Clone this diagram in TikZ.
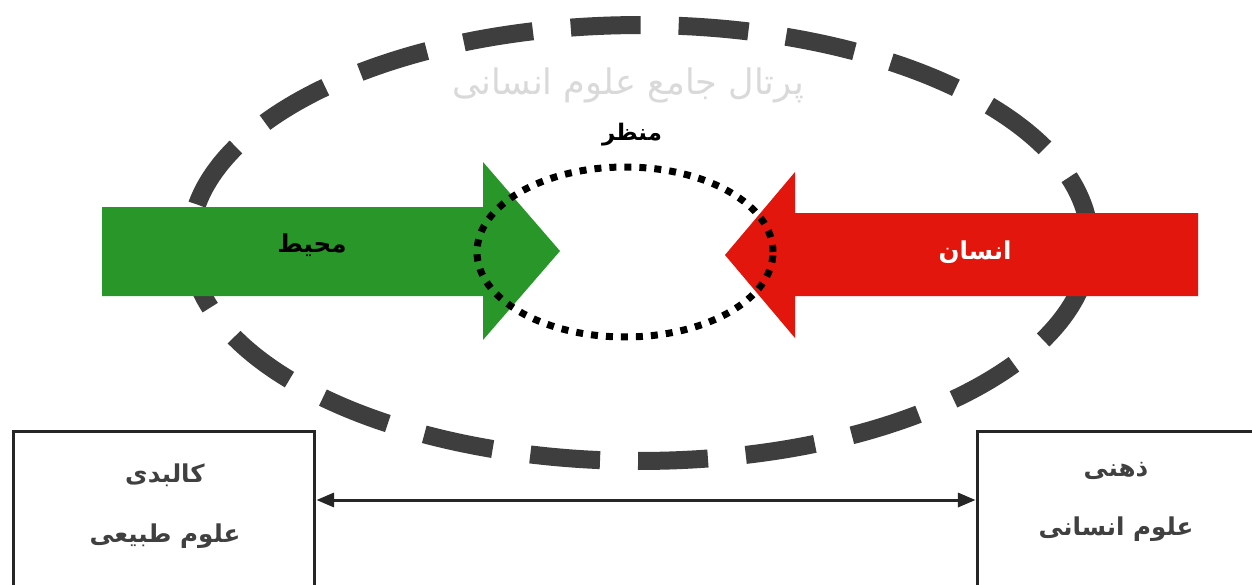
\documentclass[tikz,border=0pt]{standalone}
\usepackage{fontspec}
\usepackage{tikz}
\usetikzlibrary{shapes.geometric,arrows.meta}
\TeXXeTstate=1
\newfontfamily\arabicfont[Script=Arabic]{DejaVu Sans}
\definecolor{envgreen}{RGB}{40,150,40}
\definecolor{humred}{RGB}{226,22,12}
\definecolor{rimgray}{RGB}{62,62,62}
\newcommand{\fa}[1]{\beginR #1\endR}

\begin{document}
\begin{tikzpicture}[x=0.02cm, y=-0.02cm,
	every node/.style={font=\arabicfont\bfseries\fontsize{14}{17}\selectfont},
	box/.style={draw=black!85, line width=1.7pt, minimum width=6.04cm, minimum height=3.4cm},
	boxtext/.style={align=center, text=black!75, font=\arabicfont\bfseries\fontsize{14}{34}\selectfont}]
	\useasboundingbox (0,0) rectangle (1252,585);
	\fill[white] (0,0) rectangle (1252,585);
	% watermark
	\node[font=\arabicfont\fontsize{20}{24}\selectfont, text=black!15] (mark) at (628,85) {\fa{پرتال جامع علوم انسانی}};
	% outer frame
	\node[draw=rimgray, ellipse, line width=0.36cm, dash pattern=on 1.4cm off 0.76cm, minimum width=18cm, minimum height=8.72cm, inner sep=0pt] (frame) at (640,243) {};
	% the two arrows
	\fill[envgreen] (102,207) -- (483,207) -- (483,162) -- (560,251) -- (483,340) -- (483,296) -- (102,296) -- cycle;
	\fill[humred] (1198,213) -- (795,213) -- (795,172) -- (725,255) -- (795,338) -- (795,296) -- (1198,296) -- cycle;
	\node (env) at (312,245) {\fa{محیط}};
	\node[text=white] (human) at (975,252) {\fa{انسان}};
	% view
	\node[draw=black, ellipse, line width=0.14cm, dash pattern=on 0.14cm off 0.16cm, minimum width=5.92cm, minimum height=3.4cm, inner sep=0pt] (view) at (625,252) {};
	\node[font=\arabicfont\bfseries\fontsize{13}{16}\selectfont] (viewtext) at (632,135) {\fa{منظر}};
	% boxes
	\node[box] (lbox) at (164,516) {};
	\node[box] (rbox) at (1128,516) {};
	\node[boxtext] (ltext) at (165,506) {\fa{کالبدی}\\ \fa{علوم طبیعی}};
	\node[boxtext] (rtext) at (1116,502) {\fa{ذهنی}\\ \fa{علوم انسانی}};
	\draw[{Triangle[length=10pt,width=8pt]}-{Triangle[length=10pt,width=8pt]}, line width=1.7pt, black!85] ([yshift=0.32cm]lbox.east) -- ([yshift=0.32cm]rbox.west);
\end{tikzpicture}
\end{document}
